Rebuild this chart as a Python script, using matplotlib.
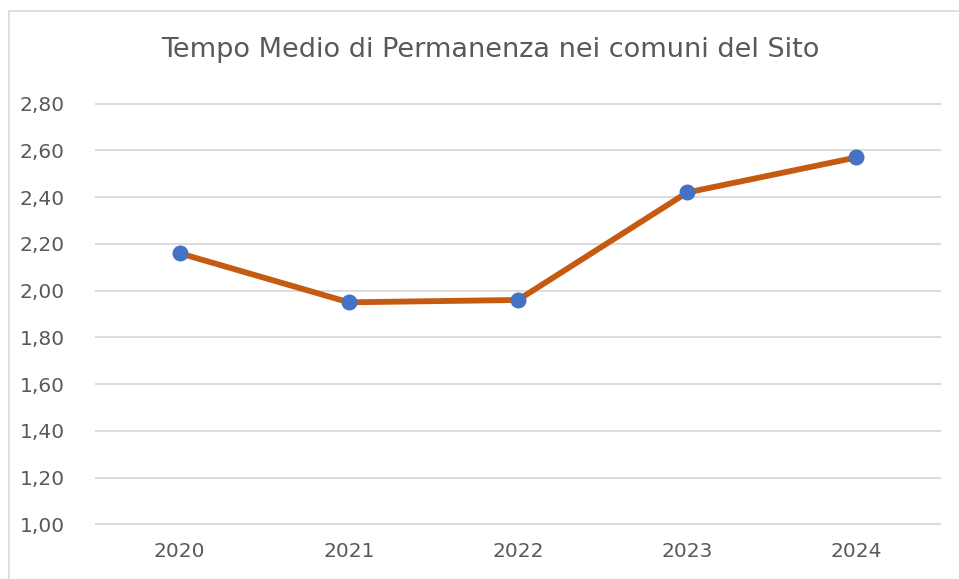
import matplotlib.pyplot as plt
from matplotlib.patches import Rectangle

# Data
years = ['2020', '2021', '2022', '2023', '2024']
tempo_medio = [2.16, 1.95, 1.96, 2.42, 2.57]
y_ticks = [1.0, 1.2, 1.4, 1.6, 1.8, 2.0, 2.2, 2.4, 2.6, 2.8]

W, H = 959, 579
fig = plt.figure(figsize=(W / 100, H / 100), dpi=100)

# chart border (only left and top edges are visible in the crop)
fig.patches.append(Rectangle((9 / W, -0.1), 1.2, 1 - 11 / H + 0.1,
                             transform=fig.transFigure, fill=False,
                             edgecolor='#D9D9D9', linewidth=1.2))

ax = fig.add_axes([95 / W, 1 - 525 / H, (941 - 95) / W, (525 - 103) / H])

x = range(len(years))
ax.plot(x, tempo_medio, color='#C55A11', linewidth=4.2, zorder=3,
        solid_capstyle='round')
ax.plot(x, tempo_medio, linestyle='none', marker='o', markersize=10.5,
        color='#4472C4', zorder=4)

ax.set_xlim(-0.5, len(years) - 0.5)
ax.set_ylim(0.997, 2.803)
ax.set_yticks(y_ticks)
ax.set_yticklabels([f'{v:.2f}'.replace('.', ',') for v in y_ticks])
ax.set_xticks(list(x))
ax.set_xticklabels(years)

ax.grid(axis='y', color='#D9D9D9', linewidth=1.3)
ax.set_axisbelow(True)
for s in ax.spines.values():
    s.set_visible(False)
ax.tick_params(length=0, labelsize=14.5, colors='#595959')
ax.tick_params(axis='y', pad=22)
ax.tick_params(axis='x', pad=12)

fig.text(490 / W, 1 - 50 / H, 'Tempo Medio di Permanenza nei comuni del Sito',
         ha='center', va='center', fontsize=19.5, color='#595959')

fig.savefig('out.png', dpi=100)
